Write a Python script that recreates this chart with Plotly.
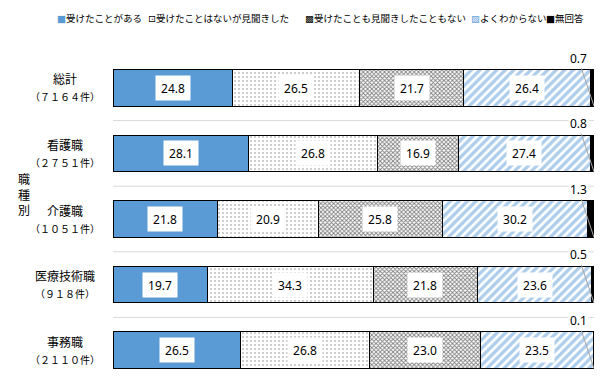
import plotly.graph_objects as go

# ---------------- data ----------------
categories = ["総計", "看護職", "介護職", "医療技術職", "事務職"]
counts = ["（７１６４件）", "（２７５１件）", "（１０５１件）", "（９１８件）", "（２１１０件）"]
series_names = ["受けたことがある", "受けたことはないが見聞きした",
                "受けたことも見聞きしたこともない", "よくわからない", "無回答"]
experienced = [24.8, 28.1, 21.8, 19.7, 26.5]
heard = [26.5, 26.8, 20.9, 34.3, 26.8]
neither = [21.7, 16.9, 25.8, 21.8, 23.0]
unsure = [26.4, 27.4, 30.2, 23.6, 23.5]
no_answer = [0.7, 0.8, 1.3, 0.5, 0.1]
group_title = "職種別"

series_values = [experienced, heard, neither, unsure, no_answer]

# ---------------- styles ----------------
BLUE = "#5B9BD5"
NUM_FONT = "Noto Sans, Liberation Sans, sans-serif"
JP_FONT = "Noto Sans CJK JP, sans-serif"
styles = [
    dict(color=BLUE),
    dict(color="white", pattern=dict(shape=".", fgcolor="black", bgcolor="white", size=4, solidity=0.1)),
    dict(color="white", pattern=dict(shape="x", fgcolor="black", bgcolor="white", size=3, solidity=0.5)),
    dict(color="white", pattern=dict(shape="/", fgcolor=BLUE, bgcolor="white", size=6, solidity=0.55)),
    dict(color="black"),
]
legend_glyphs = [("■", BLUE), ("⊡", "black"), ("▩", "black"), ("▨", BLUE), ("■", "black")]
legend_px = [55, 146, 303, 469, 544]

# the page body has an 8px margin: figure is placed at (8, 8) in the 602x392 window
OFF = 8
W, H = 602 - OFF, 392 - OFF
PLOT_L, PLOT_R, PLOT_T, PLOT_B = 113, 594, 55, 383   # page pixels
ML, MR, MT, MB = PLOT_L - OFF, OFF + W - PLOT_R, PLOT_T - OFF, OFF + H - PLOT_B
PW = PLOT_R - PLOT_L
PH = PLOT_B - PLOT_T


def px_x(x):
    return (x - PLOT_L) / PW


def px_y(y):
    return (PLOT_B - y) / PH


fig = go.Figure()
for name, vals, st in zip(series_names, series_values, styles):
    marker = dict(st)
    marker["line"] = dict(color="black", width=1)
    fig.add_trace(go.Bar(
        y=categories, x=vals, name=name, orientation="h",
        marker=marker, showlegend=False, hoverinfo="x+name",
    ))

annotations = []
for i, cat in enumerate(categories):
    row = [s[i] for s in series_values]
    total = sum(row)
    cum = 0.0
    for k in range(4):
        v = row[k]
        center = (cum + v / 2) / total * 100
        cum += v
        annotations.append(dict(
            x=center, y=cat, xref="x", yref="y", text=f"{v:.1f}", showarrow=False,
            font=dict(family=NUM_FONT, size=12, color="black"),
            bgcolor="white", width=28, height=18, borderpad=3,
        ))
    # no answer label with leader line
    annotations.append(dict(
        x=100, y=i + 0.28, xref="x", yref="y", text=f"{no_answer[i]:.1f}",
        showarrow=True, arrowhead=0, arrowwidth=1, arrowcolor="#A6A6A6",
        ax=-16, ay=-48, standoff=0,
        font=dict(family=NUM_FONT, size=12, color="black"), bgcolor="white",
    ))
    # category labels
    annotations.append(dict(
        x=px_x(65), y=cat, xref="paper", yref="y", text=cat, showarrow=False,
        xanchor="center", yshift=9, font=dict(family=JP_FONT, size=12, color="black"),
    ))
    annotations.append(dict(
        x=px_x(65), y=cat, xref="paper", yref="y", text=counts[i], showarrow=False,
        xanchor="center", yshift=-9, font=dict(family=JP_FONT, size=10, color="black"),
    ))

annotations.append(dict(
    x=px_x(24), y=px_y(194), xref="paper", yref="paper",
    text="<br>".join(group_title), showarrow=False, xanchor="center", yanchor="middle",
    font=dict(family=JP_FONT, size=12, color="black"),
))

# legend
for (g, c), name, px in zip(legend_glyphs, series_names, legend_px):
    annotations.append(dict(
        x=px_x(px), y=px_y(18), xref="paper", yref="paper",
        text=f"<span style='color:{c}; font-family:DejaVu Sans'>{g}</span>{name}",
        showarrow=False, xanchor="left", yanchor="middle",
        font=dict(family=JP_FONT, size=9.5, color="black"),
    ))

shapes = [
    dict(type="line", xref="paper", x0=0, x1=1, yref="y", y0=k + 0.5, y1=k + 0.5,
         line=dict(color="#D9D9D9", width=1), layer="below")
    for k in range(len(categories) - 1)
]

fig.update_layout(
    width=W, height=H,
    margin=dict(l=ML, r=MR, t=MT, b=MB, autoexpand=False),
    barmode="stack", barnorm="percent", bargap=0.44,
    plot_bgcolor="white", paper_bgcolor="white",
    xaxis=dict(range=[0, 100], visible=False, fixedrange=True),
    yaxis=dict(type="category", categoryorder="array", categoryarray=categories,
               range=[len(categories) - 0.5, -0.5], autorange=False,
               showticklabels=False, showgrid=False,
               zeroline=False, showline=False, ticks="", fixedrange=True),
    annotations=annotations, shapes=shapes,
    font=dict(family=JP_FONT),
)

fig.write_html("out.html")
